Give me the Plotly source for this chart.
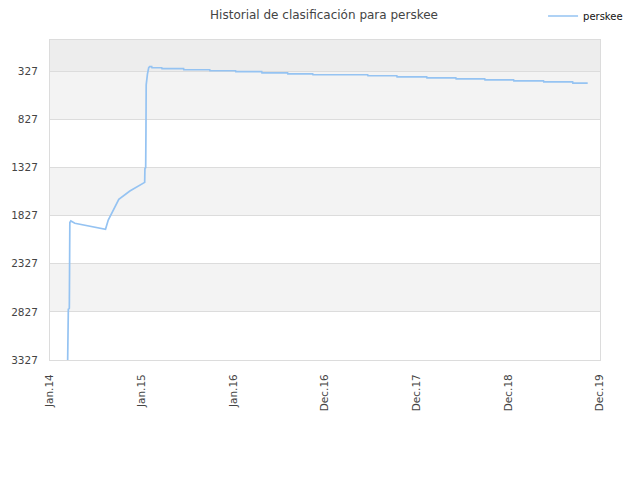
import plotly.graph_objects as go
from datetime import date, timedelta

# ---- data ----
dates = [
    "2014-03-11", "2014-03-12", "2014-03-15", "2014-03-17", "2014-03-19", "2014-03-21",
    "2014-03-25", "2014-04-10", "2014-06-15", "2014-08-10", "2014-08-21", "2014-10-02",
    "2014-11-15", "2015-01-13", "2015-01-14", "2015-01-17", "2015-01-18", "2015-01-19",
    "2015-01-24", "2015-01-29", "2015-02-02", "2015-02-10", "2015-02-11", "2015-03-22",
    "2015-03-23", "2015-06-17", "2015-06-18", "2015-09-29", "2015-09-30", "2016-01-10",
    "2016-01-11", "2016-04-23", "2016-04-24", "2016-08-04", "2016-08-05", "2016-11-12",
    "2016-11-13", "2017-06-19", "2017-06-20", "2017-10-13", "2017-10-14", "2018-02-09",
    "2018-02-10", "2018-06-05", "2018-06-06", "2018-09-28", "2018-09-29", "2019-01-21",
    "2019-01-22", "2019-05-20", "2019-05-21", "2019-09-13", "2019-09-14", "2019-11-12",
]
ranks = [
    3600, 2935, 2800, 2797, 2790, 1900,
    1884, 1908, 1943, 1970, 1874, 1659,
    1573, 1483, 1340, 1330, 980, 470,
    360, 293, 282, 282, 293, 293,
    303, 303, 314, 314, 324, 324,
    334, 334, 346, 346, 356, 356,
    366, 366, 376, 376, 387, 387,
    398, 398, 408, 408, 418, 418,
    429, 429, 439, 439, 452, 452,
]
series_name = "perskee"
title_text = "Historial de clasificación para perskee"

x_tick_labels = ["Jan.14", "Jan.15", "Jan.16", "Dec.16", "Dec.17", "Dec.18", "Dec.19"]
y_tick_values = [327, 827, 1327, 1827, 2327, 2827, 3327]
y_top = 5

# x ticks every 365 days starting 2014-01-01
start = date(2014, 1, 1)
x_tick_dates = [(start + timedelta(days=365 * i)).isoformat() for i in range(len(x_tick_labels))]

fig = go.Figure()
fig.add_trace(go.Scatter(
    x=dates, y=ranks, mode="lines", name=series_name,
    line=dict(color="#95c3f2", width=1.7),
    showlegend=True,
))

# alternating background bands between ticks
shapes = []
bounds = [y_top] + y_tick_values
for i in range(len(bounds) - 1):
    if i == 0:
        col = "#ededed"
    elif i % 2 == 1:
        col = "#f3f3f3"
    else:
        col = None
    if col:
        shapes.append(dict(type="rect", xref="paper", yref="y", x0=0, x1=1,
                           y0=bounds[i], y1=bounds[i + 1], fillcolor=col,
                           line=dict(width=0), layer="below"))

font_family = "DejaVu Sans"
tick_font = dict(family=font_family, size=10.5, color="#444444")
fig.update_layout(
    width=632, height=472,
    margin=dict(l=42, r=40, t=32, b=120, autoexpand=False),
    paper_bgcolor="white", plot_bgcolor="white",
    shapes=shapes,
    title=dict(text=title_text, x=0.5, xanchor="center", y=0.9855, yanchor="middle",
               font=dict(family=font_family, size=12, color="#444444")),
    font=dict(family=font_family, size=10, color="#444444"),
    legend=dict(x=1.051, xanchor="right", y=1.075, yanchor="middle",
                font=dict(family=font_family, size=10, color="#111111"),
                bgcolor="rgba(0,0,0,0)"),
    xaxis=dict(
        range=[x_tick_dates[0], x_tick_dates[-1]],
        tickmode="array", tickvals=x_tick_dates, ticktext=x_tick_labels,
        tickangle=-90, showgrid=False, zeroline=False, automargin=False,
        showline=True, linecolor="#dcdcdc", linewidth=1, mirror=True,
        ticks="", tickfont=tick_font, ticklabelstandoff=9,
    ),
    yaxis=dict(
        range=[y_tick_values[-1], y_top],
        tickmode="array", tickvals=y_tick_values, automargin=False,
        ticktext=[str(v) for v in y_tick_values],
        showgrid=True, gridcolor="#dcdcdc", gridwidth=1, zeroline=False,
        showline=True, linecolor="#dcdcdc", linewidth=1, mirror=True,
        ticks="", ticklen=0, tickfont=tick_font, ticklabelstandoff=9,
    ),
)

fig.write_html("out.html")
